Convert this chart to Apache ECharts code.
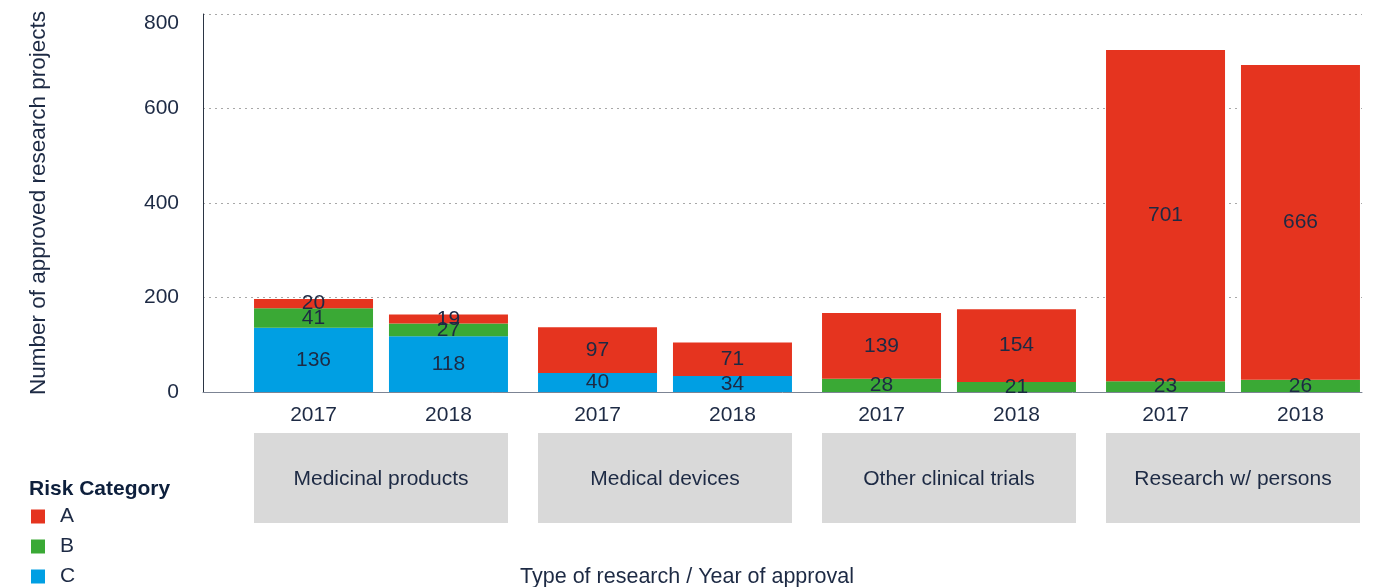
<!DOCTYPE html>
<html>
<head>
<meta charset="utf-8">
<script src="https://cdn.jsdelivr.net/npm/echarts@6/dist/echarts.min.js"></script>
<style>
  html, body { margin: 0; padding: 0; background: #fff; }
  #chart { width: 1382px; height: 587px; }
</style>
</head>
<body>
<div id="chart"></div>
<script>
// research types (one group each) and the two years per group
const categories = ['Medicinal products', 'Medical devices', 'Other clinical trials', 'Research w/ persons'];
const years = ['2017', '2018'];

// risk category counts, per year
const riskA2017 = [20, 97, 139, 701];
const riskB2017 = [41, 0, 28, 23];
const riskC2017 = [136, 40, 0, 0];
const riskA2018 = [19, 71, 154, 666];
const riskB2018 = [27, 0, 21, 26];
const riskC2018 = [118, 34, 0, 0];

const yTicks = [0, 200, 400, 600, 800];

const textColor = '#1d2a44';
const font = 'Liberation Sans';
const colors = { A: '#e5341f', B: '#3aa935', C: '#009fe3' };

const chart = echarts.init(document.getElementById('chart'));

function valueLabel() {
    return {
        show: true,
        position: 'inside',
        color: textColor,
        fontFamily: font,
        fontSize: 21,
        formatter: p => (p.value ? String(p.value) : '')
    };
}

function riskSeries(name, year, data) {
    return {
        name: name,
        type: 'bar',
        stack: year,
        xAxisIndex: 0,
        yAxisIndex: 0,
        barWidth: 119,
        barGap: '13.4%',
        itemStyle: { color: colors[name] },
        label: valueLabel(),
        data: data
    };
}

// zero-height bars that only carry the year label under each stack
function yearSeries(year) {
    return {
        name: year,
        type: 'bar',
        stack: year,
        xAxisIndex: 0,
        yAxisIndex: 0,
        barWidth: 119,
        barGap: '13.4%',
        silent: true,
        itemStyle: { color: 'transparent' },
        label: {
            show: true,
            position: 'bottom',
            distance: 13,
            color: textColor,
            fontFamily: font,
            fontSize: 21,
            formatter: () => year
        },
        data: categories.map(() => 0)
    };
}

const option = {
    backgroundColor: '#fff',
    animation: false,
    textStyle: { fontFamily: font },
    title: [
        {
            text: 'Risk Category',
            left: 29,
            top: 479,
            padding: 0,
            textStyle: { fontSize: 21, fontWeight: 'bold', color: '#0d1f3c', fontFamily: font }
        },
        {
            text: 'Type of research / Year of approval',
            left: 687,
            top: 566,
            padding: 0,
            textAlign: 'center',
            textStyle: { fontSize: 21.5, fontWeight: 'normal', color: textColor, fontFamily: font }
        }
    ],
    legend: {
        data: ['A', 'B', 'C'],
        orient: 'vertical',
        left: 31,
        top: 506,
        padding: 0,
        itemWidth: 14,
        itemHeight: 14,
        itemGap: 9,
        icon: 'rect',
        textStyle: { fontSize: 21, color: textColor, fontFamily: font, padding: [0, 0, 0, 10] }
    },
    grid: [
        { left: 239, right: 7, top: 14, bottom: 195 },   // bars
        { left: 203, right: 20, top: 14, bottom: 195 }   // axis lines + grid lines
    ],
    xAxis: [
        {
            type: 'category',
            gridIndex: 0,
            data: categories,
            axisLine: { show: false },
            axisTick: { show: false },
            axisLabel: {
                margin: 41,
                interval: 0,
                color: textColor,
                fontFamily: font,
                fontSize: 21,
                backgroundColor: '#d9d9d9',
                width: 254,
                height: 90,
                lineHeight: 92,
                align: 'center'
            }
        },
        {
            type: 'value',
            gridIndex: 1,
            min: 0,
            max: 1,
            axisLine: { show: true, lineStyle: { color: '#7c8494', width: 1 } },
            axisTick: { show: false },
            axisLabel: { show: false },
            splitLine: { show: false }
        }
    ],
    yAxis: [
        {
            type: 'value',
            gridIndex: 0,
            min: 0,
            max: 800,
            interval: 200,
            axisLine: { show: false },
            axisTick: { show: false },
            axisLabel: { show: false },
            splitLine: { show: false }
        },
        {
            type: 'value',
            gridIndex: 1,
            min: yTicks[0],
            max: yTicks[yTicks.length - 1],
            interval: 200,
            name: 'Number of approved research projects',
            nameLocation: 'middle',
            nameGap: 153,
            nameTextStyle: { fontSize: 22.5, color: textColor, fontFamily: font },
            axisLine: { show: true, lineStyle: { color: '#2b3544', width: 1 } },
            axisTick: { show: false },
            axisLabel: {
                margin: 24,
                color: textColor,
                fontFamily: font,
                fontSize: 21,
                // the top label sits a little below its grid line
                formatter: v => (v === yTicks[yTicks.length - 1] ? '{top|' + v + '}' : String(v)),
                rich: { top: { fontSize: 21, color: textColor, fontFamily: font, padding: [19, 0, 0, 0] } }
            },
            splitLine: { show: true, lineStyle: { type: [2, 4], color: '#a8a8a8', width: 1 } }
        }
    ],
    series: [
        yearSeries(years[0]),
        riskSeries('C', years[0], riskC2017),
        riskSeries('B', years[0], riskB2017),
        riskSeries('A', years[0], riskA2017),
        yearSeries(years[1]),
        riskSeries('C', years[1], riskC2018),
        riskSeries('B', years[1], riskB2018),
        riskSeries('A', years[1], riskA2018)
    ]
};

chart.setOption(option);
</script>
</body>
</html>
